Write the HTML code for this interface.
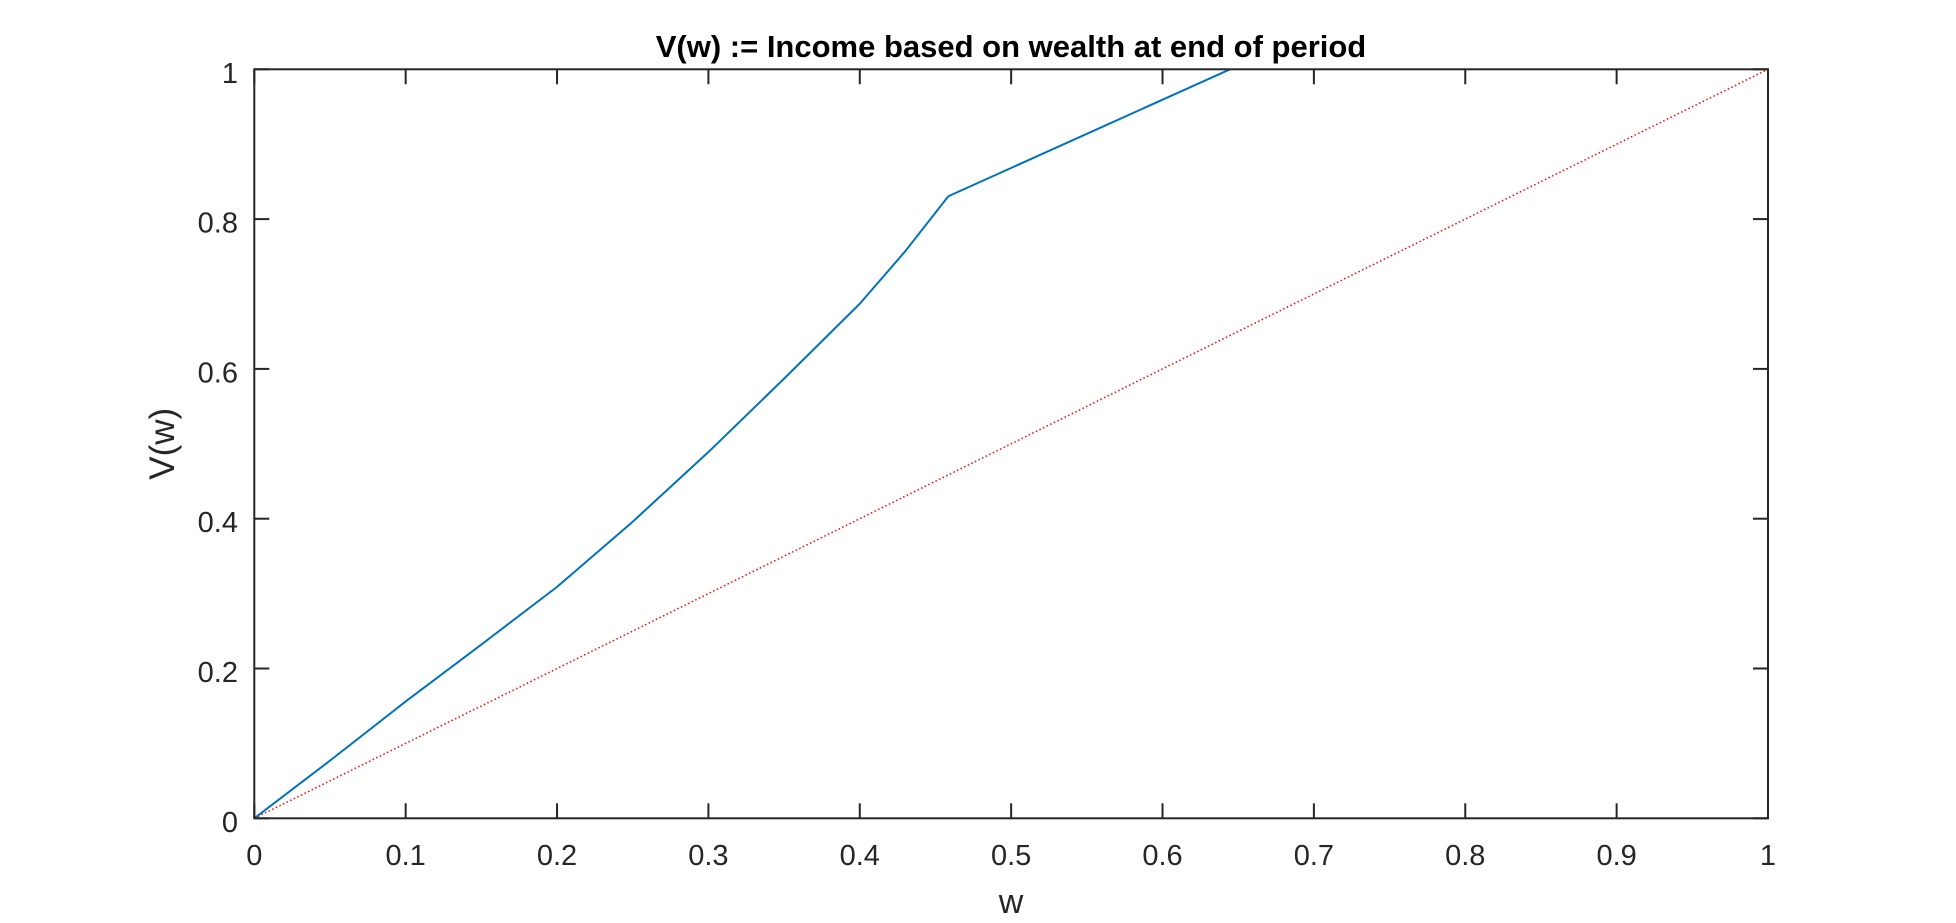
<!DOCTYPE html>
<html><head><meta charset="utf-8"><style>
html,body{margin:0;padding:0;background:#fff;}
svg{display:block;font-family:"Liberation Sans",Arial,sans-serif;}
</style></head><body>
<svg id="chart" width="1956" height="923" viewBox="0 0 1956 923" xmlns="http://www.w3.org/2000/svg">
<defs><clipPath id="clip"><rect x="254.3" y="69.3" width="1513.7" height="749"/></clipPath></defs>
<rect width="1956" height="923" fill="#fff"/>
<g id="ticks"></g>
<g id="series" clip-path="url(#clip)"></g>
<rect x="254.3" y="69.3" width="1513.7" height="749" fill="none" stroke="#262626" stroke-width="2"/>
<text x="1011" y="57" text-anchor="middle" font-size="31" font-weight="bold" fill="#000">V(w) := Income based on wealth at end of period</text>
<text x="1011" y="913" text-anchor="middle" font-size="34" fill="#262626">w</text>
<text transform="translate(174,443.8) rotate(-90)" text-anchor="middle" font-size="35" fill="#262626">V(w)</text>
</svg>
<script>
const xTicks = [0,0.1,0.2,0.3,0.4,0.5,0.6,0.7,0.8,0.9,1];
const xTickLabels = ["0","0.1","0.2","0.3","0.4","0.5","0.6","0.7","0.8","0.9","1"];
const yTicks = [0,0.2,0.4,0.6,0.8,1];
const yTickLabels = ["0","0.2","0.4","0.6","0.8","1"];
const incomeW = [0,0.05,0.1,0.15,0.2,0.25,0.3,0.35,0.4,0.43,0.4585,0.6446,0.7];
const incomeV = [0,0.077,0.156,0.232,0.309,0.396,0.489,0.587,0.687,0.757,0.8305,1.0,1.05];
const diagW = [0,1];
const diagV = [0,1];

const L=254.3,R=1768,T=69.3,B=818.3;
const NS="http://www.w3.org/2000/svg";
function sx(v){return L+v*(R-L);}
function sy(v){return B-v*(B-T);}
function mk(tag,attrs,parent){const e=document.createElementNS(NS,tag);for(const k in attrs)e.setAttribute(k,attrs[k]);parent.appendChild(e);return e;}
const tg=document.getElementById('ticks');
xTicks.forEach((t,i)=>{
  const x=sx(t);
  const a=mk('line',{x1:x,x2:x,y1:B,y2:B-15,stroke:'#262626','stroke-width':2},tg);
  
  
  const b=mk('line',{x1:x,x2:x,y1:T,y2:T+15,stroke:'#262626','stroke-width':2},tg);
  
  
  const l=mk('text',{x:x,y:865,'text-anchor':'middle','font-size':29,fill:'#262626'},tg);
  l.textContent=xTickLabels[i];
  
  
});
yTicks.forEach((t,i)=>{
  const y=sy(t);
  const a=mk('line',{x1:L,x2:L+15,y1:y,y2:y,stroke:'#262626','stroke-width':2},tg);
  
  
  const b=mk('line',{x1:R,x2:R-15,y1:y,y2:y,stroke:'#262626','stroke-width':2},tg);
  
  
  const l=mk('text',{x:238,y:y+13.5,'text-anchor':'end','font-size':29,fill:'#262626'},tg);
  l.textContent=yTickLabels[i];
  
  
});
const sg=document.getElementById('series');
const d1=mk('polyline',{points:diagW.map((w,i)=>sx(w)+','+sy(diagV[i])).join(' '),fill:'none',stroke:'#ff0000','stroke-width':1.5,'stroke-dasharray':'1.5 2.5'},sg);


const p1=mk('polyline',{points:incomeW.map((w,i)=>sx(w)+','+sy(incomeV[i])).join(' '),fill:'none',stroke:'#0072BD','stroke-width':2,'stroke-linejoin':'round'},sg);


</script>
</body></html>
